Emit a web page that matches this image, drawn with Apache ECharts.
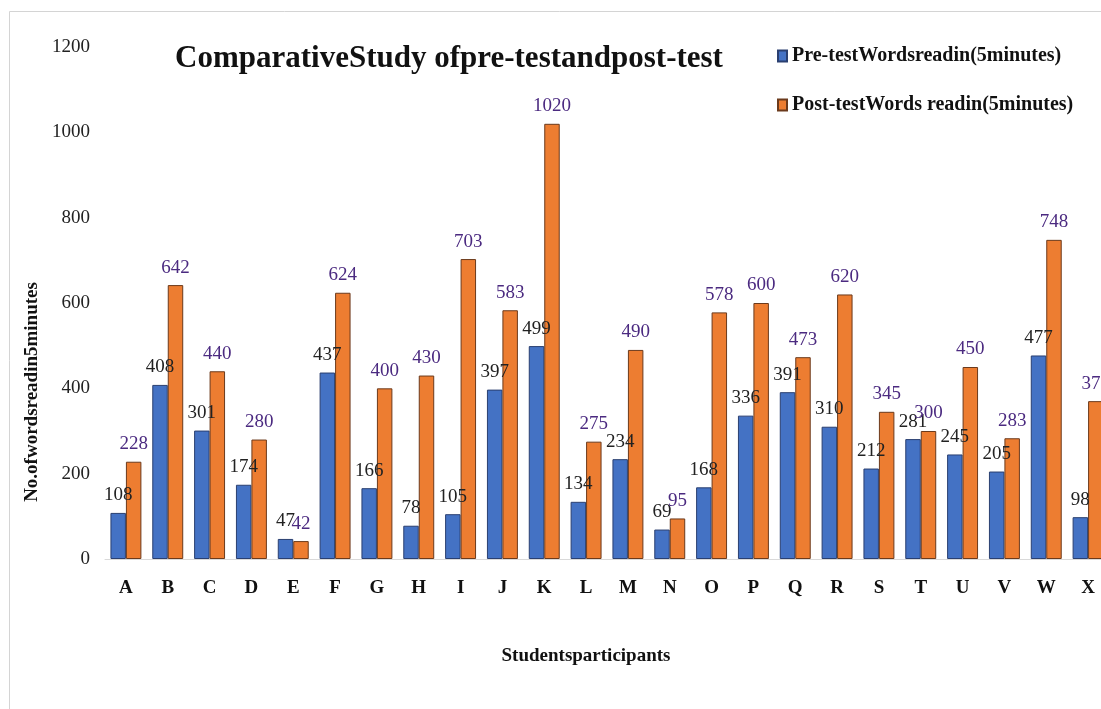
<!DOCTYPE html>
<html>
<head>
<meta charset="utf-8">
<script src="https://cdn.jsdelivr.net/npm/echarts@6/dist/echarts.min.js"></script>
<style>
  html, body { margin: 0; padding: 0; background: #fff; overflow: hidden; }
  /* the reference is cropped on the right, so the chart runs past the window edge */
  #main { width: 1109px; height: 709px; }
</style>
</head>
<body>
<div id="main"></div>
<script>
var students = ['A','B','C','D','E','F','G','H','I','J','K','L','M','N','O','P','Q','R','S','T','U','V','W','X'];
var preTest = [108,408,301,174,47,437,166,78,105,397,499,134,234,69,168,336,391,310,212,281,245,205,477,98];
var postTest = [228,642,440,280,42,624,400,430,703,583,1020,275,490,95,578,600,473,620,345,300,450,283,748,370];
var yTicks = [0,200,400,600,800,1000,1200];

var serif = '"Liberation Serif", "Times New Roman", serif';

var dom = document.getElementById('main');
var myChart = echarts.init(dom);

var option = {
    backgroundColor: '#fff',
    animation: false,
    graphic: [{
        type: 'rect',
        shape: {x: 9.5, y: 11.5, width: 1200, height: 800},
        style: {fill: 'none', stroke: '#d4d4d4', lineWidth: 1},
        silent: true
    }],
    title: {
        text: 'ComparativeStudy ofpre-testandpost-test',
        left: 170,
        top: 38,
        textStyle: {fontFamily: serif, fontWeight: 'bold', fontSize: 31, color: '#111'}
    },
    legend: {
        orient: 'vertical',
        left: 772,
        top: 41,
        icon: 'rect',
        itemWidth: 9,
        itemHeight: 11,
        itemGap: 29,
        textStyle: {fontFamily: serif, fontWeight: 'bold', fontSize: 20, color: '#111'},
        data: ['Pre-testWordsreadin(5minutes)', 'Post-testWords readin(5minutes)']
    },
    grid: {
        left: 105,
        right: 0,
        top: 47,
        bottom: 150
    },
    xAxis: {
        type: 'category',
        data: students,
        name: 'Studentsparticipants',
        nameLocation: 'middle',
        nameGap: 88,
        nameTextStyle: {fontFamily: serif, fontWeight: 'bold', fontSize: 19, color: '#111', padding: [0, 42, 0, 0]},
        axisLine: {lineStyle: {color: '#d9d9d9'}},
        axisTick: {show: false},
        axisLabel: {fontFamily: serif, fontWeight: 'bold', fontSize: 19, color: '#111', margin: 20}
    },
    yAxis: {
        type: 'value',
        min: yTicks[0],
        max: yTicks[yTicks.length - 1],
        interval: 200,
        name: 'No.ofwordsreadin5minutes',
        nameLocation: 'middle',
        nameGap: 58,
        nameTextStyle: {fontFamily: serif, fontWeight: 'bold', fontSize: 19, color: '#111', padding: [0, 178, 0, 0]},
        splitLine: {show: false},
        axisLine: {show: false},
        axisTick: {show: false},
        axisLabel: {
            fontFamily: serif, fontSize: 19, color: '#222', margin: 15,
            formatter: function (v) { return String(v); }
        }
    },
    series: [{
        name: 'Pre-testWordsreadin(5minutes)',
        type: 'bar',
        data: preTest,
        barGap: '0%',
        barCategoryGap: '26%',
        itemStyle: {color: '#4472C4', borderColor: '#2a3f70', borderWidth: 1},
        label: {show: true, position: 'top', distance: 8, fontFamily: serif, fontSize: 19, color: '#222'}
    }, {
        name: 'Post-testWords readin(5minutes)',
        type: 'bar',
        data: postTest,
        barGap: '0%',
        barCategoryGap: '26%',
        itemStyle: {color: '#ED7D31', borderColor: '#6b3a1c', borderWidth: 1},
        label: {show: true, position: 'top', distance: 8, fontFamily: serif, fontSize: 19, color: '#4b2a80'}
    }]
};

if (option && typeof option === "object") {
    myChart.setOption(option, true);
}
</script>
</body>
</html>
